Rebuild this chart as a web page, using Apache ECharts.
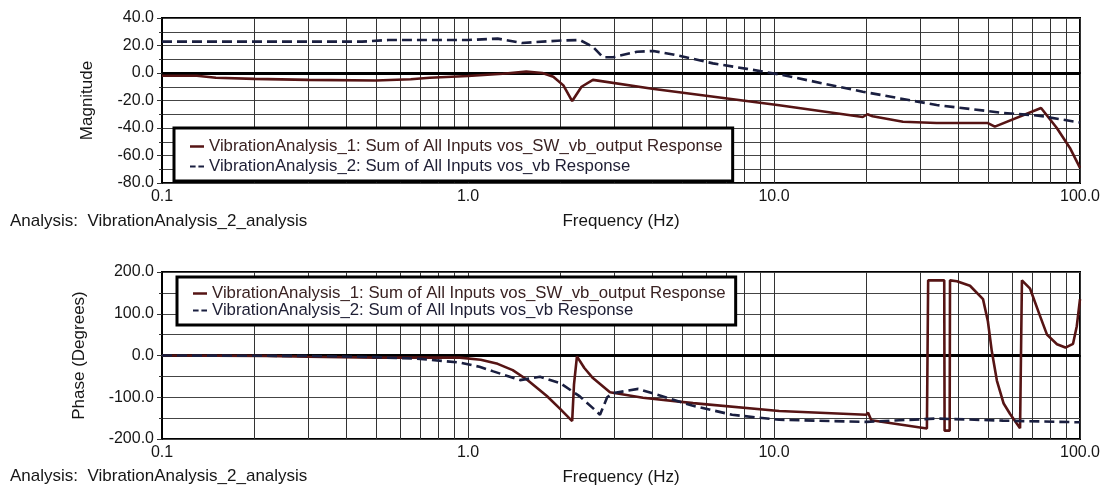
<!DOCTYPE html>
<html><head><meta charset="utf-8">
<script src="https://cdn.jsdelivr.net/npm/echarts@6/dist/echarts.min.js"></script>
<style>html,body{margin:0;padding:0;background:#fff}#c{width:1105px;height:489px}</style>
</head><body><div id="c"></div>
<script>
const seriesNames = [
  'VibrationAnalysis_1: Sum of All Inputs vos_SW_vb_output Response',
  'VibrationAnalysis_2: Sum of All Inputs vos_vb Response'
];
const analysisLabel = 'Analysis:  VibrationAnalysis_2_analysis';
const freqAxisName = 'Frequency (Hz)';
const magAxisName = 'Magnitude';
const phaseAxisName = 'Phase (Degrees)';
const minorGridFreqs = [0.2,0.3,0.4,0.5,0.6,0.7,0.8,0.9,2,3,4,5,6,7,8,9,20,30,40,50,60,70,80,90];

// Magnitude, series 1
const magFreq1 = [0.1,0.13,0.15,0.2,0.3,0.5,0.65,0.75,1.0,1.3,1.55,1.75,1.9,2.05,2.19,2.35,2.56,4.0,6.0,10.4,19.5,20.2,21.0,26.4,34,50,52.7,74.6,84,92.7,100];
const magVal1  = [-2,-2,-3.5,-4.3,-5,-5.5,-4.5,-3.5,-2.2,-0.5,1,0,-2.7,-9,-20.4,-10,-5,-11.5,-16.5,-23.5,-32,-30,-31.5,-35.4,-36.4,-36.4,-39,-25.5,-40,-54.5,-69];
// Magnitude, series 2
const magFreq2 = [0.1,0.45,0.55,1.0,1.25,1.5,1.96,2.32,2.56,2.76,2.98,3.57,4.03,4.68,6.32,8.16,10.4,19.5,34,56,73,100];
const magVal2  = [22.8,22.8,24,24,25,21.8,23.5,24,19,11.5,11.5,15.5,16,13.5,7,3,-1,-13.6,-23.3,-29,-31,-36];
// Phase, series 1
const phaseFreq1 = [0.1,0.22,0.3,0.5,0.7,0.94,1.1,1.25,1.4,1.56,1.81,2.0,2.19,2.22,2.27,2.4,2.56,2.91,3.73,5.44,10.4,20.0,20.3,20.8,31.6,31.9,31.9,36.0,36.1,37.5,37.6,39.6,43.7,48.2,50.0,51.5,53.5,56.3,59.1,63.7,64.6,68.7,74,78,84.1,89.6,94.9,97.6,100];
const phaseVal1  = [0,-1,-3,-5,-5,-5,-10,-20,-35,-58,-97,-128,-157,-70,-2,-30,-54,-88,-101,-114,-133,-142,-137,-155,-175,-178,180,180,-180,-180,180,178,167,135,82,10,-60,-115,-140,-174,180,160,95,50,27,19,28,70,135];
// Phase, series 2
const phaseFreq2 = [0.1,0.3,0.5,0.7,0.94,1.09,1.21,1.48,1.72,2.0,2.32,2.56,2.7,2.85,2.98,3.6,4.5,5.4,7.3,10.4,20,34,56,100];
const phaseVal2  = [0,-1,-4,-8,-17,-27,-38,-59,-51,-66,-98,-126,-142,-100,-90,-80,-102,-120,-142,-154,-159,-151,-156,-160];

const zip = (a,b) => a.map((x,i)=>[x,b[i]]);
const FONT = 'Liberation Sans';
const RED = '#561414', BLUE = '#1a1f40', TXT = '#161616';
const ICON_SOLID = 'rect';
const ICON_DASH = 'path://M0,0H6V2H0Z M9,0H15V2H9Z';

function xAxis(gi){
  return {
    type:'log', logBase:10, gridIndex:gi, min:0.1, max:100,
    axisLine:{show:true, lineStyle:{color:'#000', width:2}},
    axisTick:{show:false},
    axisLabel:{formatter:v=>Number(v).toFixed(1), margin:6, fontSize:16, fontFamily:FONT, color:TXT},
    splitLine:{show:true, lineStyle:{color:'#333', width:1}},
    name:freqAxisName, nameLocation:'middle', nameGap:30,
    nameTextStyle:{fontSize:17, fontFamily:FONT, color:TXT}
  };
}
function yAxis(gi, min, max, interval, name, gap){
  return {
    type:'value', gridIndex:gi, min, max, interval,
    axisLine:{show:true, lineStyle:{color:'#000', width:2}},
    axisTick:{show:true, length:5, lineStyle:{color:'#333'}},
    minorTick:{show:true, splitNumber:2, length:3, lineStyle:{color:'#333'}},
    axisLabel:{formatter:v=>Number(v).toFixed(1), margin:8, fontSize:16, fontFamily:FONT, color:TXT},
    splitLine:{show:true, lineStyle:{color:'#444', width:1}},
    minorSplitLine:{show:true, lineStyle:{color:'#444', width:1}},
    name, nameLocation:'middle', nameGap:gap, nameRotate:90,
    nameTextStyle:{fontSize:17, fontFamily:FONT, color:TXT}
  };
}
function gridSeries(i){
  return {
    type:'line', name:'_grid'+i, xAxisIndex:i, yAxisIndex:i, data:[], silent:true,
    markLine:{
      z:1, silent:true, symbol:'none', label:{show:false}, animation:false,
      lineStyle:{color:'#333', width:1, type:'solid'},
      data: minorGridFreqs.map(f=>({xAxis:f})).concat([{yAxis:0, lineStyle:{color:'#000', width:3, type:'solid'}}])
    }
  };
}
function dataSeries(name, gi, data, color, dashed){
  return {
    type:'line', name, xAxisIndex:gi, yAxisIndex:gi, data, symbol:'none', z:3,
    lineStyle:{color, width:2.6, type: dashed ? [10,5] : 'solid'},
    itemStyle:{color}
  };
}
function legend(left, top, pad, gap){
  return {
    orient:'vertical', left, top, selectedMode:false,
    data:[
      {name:seriesNames[0], icon:ICON_SOLID, textStyle:{color:'#3a2222'}},
      {name:seriesNames[1], icon:ICON_DASH, textStyle:{color:'#1e1e34'}}
    ],
    itemWidth:14, itemHeight:2.5, itemGap:gap, padding:pad,
    borderColor:'#000', borderWidth:3, backgroundColor:'#fff', borderRadius:0,
    textStyle:{fontSize:16.8, lineHeight:17, fontFamily:FONT}
  };
}

const chart = echarts.init(document.getElementById('c'), null, {renderer:'canvas'});
chart.setOption({
  animation:false,
  backgroundColor:'#fff',
  grid:[
    {left:162, top:18, width:918, height:165, show:true, borderColor:'#000', borderWidth:2, backgroundColor:'transparent'},
    {left:162, top:272, width:918, height:167, show:true, borderColor:'#000', borderWidth:2, backgroundColor:'transparent'}
  ],
  xAxis:[xAxis(0), xAxis(1)],
  yAxis:[yAxis(0,-80,40,20,magAxisName,66), yAxis(1,-200,200,100,phaseAxisName,74)],
  legend:[legend(174,128,[10,10,6,16],3), legend(177,277,[8,10,6,16],0)],
  graphic:[
    {type:'text', left:10, top:213, style:{text:analysisLabel, fontSize:17, fontFamily:FONT, fill:TXT}},
    {type:'text', left:10, top:468, style:{text:analysisLabel, fontSize:17, fontFamily:FONT, fill:TXT}}
  ],
  series:[
    gridSeries(0), gridSeries(1),
    dataSeries(seriesNames[0],0,zip(magFreq1,magVal1),RED,false),
    dataSeries(seriesNames[1],0,zip(magFreq2,magVal2),BLUE,true),
    dataSeries(seriesNames[0],1,zip(phaseFreq1,phaseVal1),RED,false),
    dataSeries(seriesNames[1],1,zip(phaseFreq2,phaseVal2),BLUE,true)
  ]
});
</script></body></html>
